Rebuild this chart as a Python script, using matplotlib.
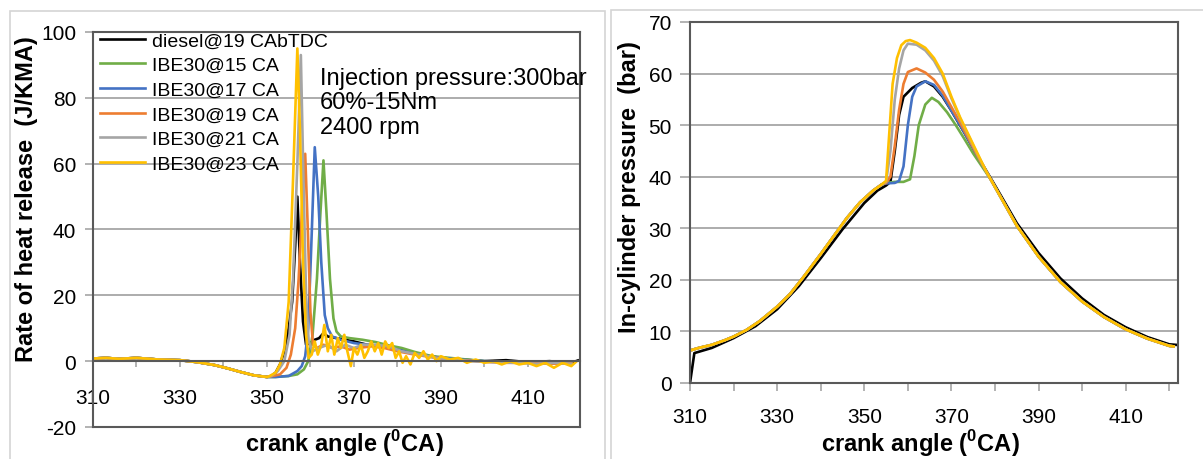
import matplotlib
matplotlib.use("Agg")
import matplotlib.pyplot as plt
from matplotlib.patches import Rectangle

plt.rcParams['font.family'] = ['Liberation Sans', 'DejaVu Sans']
plt.rcParams['axes.unicode_minus'] = False
plt.rcParams['mathtext.fontset'] = 'custom'
plt.rcParams['mathtext.rm'] = 'Liberation Sans'
plt.rcParams['mathtext.bf'] = 'Liberation Sans:bold'

# %%
# series
labels = ["diesel@19 CAbTDC", "IBE30@15 CA", "IBE30@17 CA",
          "IBE30@19 CA", "IBE30@21 CA", "IBE30@23 CA"]
colors = ["#000000", "#70ad47", "#4472c4", "#ed7d31", "#a5a5a5", "#ffc000"]

# %%
# rate of heat release (J/KMA) - shared part before combustion
hr_base_ang = [310, 313, 316, 320, 325, 330, 334, 338, 341, 344, 347, 350]
hr_base = [0.8, 1.0, 0.7, 1.0, 0.5, 0.3, -0.3, -1.2, -2.2, -3.3, -4.3, -4.8]

hr_diesel_ang = [351, 352, 353, 354, 355, 355.8, 356.5, 357, 357.6, 358.3, 359, 360, 361,
                 362, 363, 364, 366, 368, 370, 373, 376, 380, 385, 390, 395, 400, 405,
                 410, 415, 420, 421.5]
hr_diesel = [-4.5, -3.5, -1, 3, 10, 18, 35, 50, 30, 12, 5, 5.5, 6.5,
             7, 8.5, 7.5, 7, 6.5, 6, 5, 4.5, 3.5, 2, 1, 0.5, 0, 0.3,
             -0.3, 0, -0.5, 0.2]

hr_15_ang = [352, 355, 357, 358.5, 359.5, 360.5, 361.5, 362.3, 363, 363.7, 364.5, 365.3,
             366, 367, 369, 372, 375, 378, 381, 384, 388, 392, 396, 400, 405, 410, 415, 420]
hr_15 = [-4.8, -4.5, -4, -2.5, 0, 8, 25, 45, 61, 45, 25, 13,
         9, 7.5, 7, 6.5, 5.8, 4.8, 4, 2.8, 1.5, 1, 0.5, 0, -0.3, -0.3, -0.6, -0.5]

hr_17_ang = [352, 355, 357, 358, 358.8, 359.5, 360.2, 361, 361.8, 362.5, 363.3, 364,
             365, 367, 370, 373, 376, 380, 384, 388, 392, 396, 400, 405, 410, 415, 420]
hr_17 = [-4.8, -4.5, -3, -1.5, 1.5, 10, 35, 65, 50, 30, 14, 10,
         7.5, 6.5, 5.5, 5, 4.5, 3.5, 2.2, 1.3, 0.8, 0.3, 0, -0.2, -0.4, -0.5, -0.6]

hr_19_ang = [351, 353, 354.5, 355.5, 356.5, 357.3, 358.2, 358.8, 359.4, 360, 360.6,
             361.5, 363, 365, 367, 369, 371, 374, 377, 380, 384, 388, 392, 396, 400,
             405, 410, 415, 420]
hr_19 = [-4.6, -4, -2, 2, 10, 25, 50, 63, 40, 15, 5,
         4, 5, 4, 4.5, 3.5, 4, 4.5, 4, 3, 2, 1.2, 0.5, 0.2, -0.2,
         -0.5, -0.5, -0.8, -0.6]

hr_21_ang = [351, 352.5, 354, 355.2, 356, 357, 357.8, 358.4, 359, 359.6, 360.5, 362,
             364, 366, 368, 370, 372, 375, 378, 381, 385, 389, 393, 397, 402, 407,
             412, 416, 420]
hr_21 = [-4.5, -3, 0, 8, 25, 60, 93, 55, 20, 6, 3, 4,
         5, 3, 5, 4, 5, 5, 4.5, 3, 2, 1, 0.5, 0, -0.3, -0.5,
         -0.8, -0.5, -0.8]

hr_23_ang = [350.5, 352, 353, 354, 355, 356, 357, 357.6, 358.3, 359, 359.6, 360.3, 361,
             361.7, 362.5, 363.2, 364, 364.8, 365.5, 366.3, 367, 367.8, 368.5, 369.3,
             370, 370.8, 371.6, 372.4, 373.2, 374, 374.8, 375.6, 376.4, 377.2, 378,
             378.8, 379.6, 380.4, 381.2, 382, 383, 384, 385, 386, 387, 388, 389, 390,
             392, 394, 396, 398, 400, 402, 404, 406, 408, 410, 412, 414, 416, 418,
             420, 421]
hr_23 = [-4.6, -3.5, -1, 4, 18, 55, 95, 70, 30, 8, 1, 2, 6,
         2, 5, 11, 3, 8, 2, 7, 4, 8, 3, -1.5,
         4, 2, 5, 1, 3, 6, 3, 5.5, 2, 6, 4,
         5.5, 1, 3, -0.5, 1.5, -1, 2.5, 1, 3, 0.5, 2, 0, 1.5,
         0.5, 1, -0.5, 0.5, -0.5, 0, -1, 0, -1, -0.5, -1.5, -0.5, -2, -0.5,
         -1.5, -0.3]

# %%
# in-cylinder pressure (bar)
p_comp_ang = [310, 312, 315, 318, 320, 323, 326, 330, 333, 336, 340, 343, 346, 349, 352, 354]
p_comp = [6.3, 6.8, 7.4, 8.3, 9.0, 10.3, 12.0, 14.8, 17.3, 20.5, 25.0, 28.5, 32.0, 35.0, 37.3, 38.5]

p_exp_ang = [380, 385, 390, 395, 400, 405, 410, 415, 420, 421]
p_exp = [38.0, 30.5, 24.5, 19.6, 15.8, 12.8, 10.4, 8.6, 7.2, 7.1]

p_diesel_ang = [310, 311, 315, 320, 325, 330, 335, 340, 345, 350, 353, 355, 356, 357, 358,
                359, 361, 363, 364, 366, 368, 370, 373, 376, 380, 385, 390, 395, 400,
                405, 410, 415, 420, 421.5]
p_diesel = [0, 5.8, 6.8, 8.7, 11.0, 14.3, 18.8, 24.2, 29.8, 34.9, 37.3, 38.3, 39.0, 45, 52,
            55.5, 57.2, 58.2, 58.5, 57.5, 55.5, 52.8, 48.5, 44.0, 38.3, 31.0, 25.2, 20.3, 16.4,
            13.2, 10.8, 8.9, 7.5, 7.4]

p_15_ang = [355, 357, 359, 360.5, 361.5, 362.5, 364, 365.5, 367, 369, 371, 373, 375, 377, 379]
p_15 = [38.8, 39.0, 39.0, 39.5, 44, 50, 54, 55.3, 54.5, 52.5, 50.0, 47.3, 44.5, 42, 39.5]

p_17_ang = [355, 357, 358, 359, 360, 361, 362, 364, 366, 368, 370, 372, 374, 376, 378]
p_17 = [38.7, 38.8, 39.2, 42, 50, 55.5, 57.5, 58.5, 57.8, 55.7, 52.8, 50.0, 47, 44, 41]

p_19_ang = [355, 356, 357, 358, 359, 360, 362, 364, 366, 368, 370, 372, 374, 376, 378]
p_19 = [38.8, 40, 46, 53, 58, 60.3, 61, 60.2, 58.8, 56.5, 53.5, 50.5, 47.3, 44.0, 41.0]

p_21_ang = [355, 356, 357, 358, 359, 360, 362, 364, 366, 368, 370, 372, 374, 376, 378]
p_21 = [39.0, 45, 55, 61, 64.5, 65.8, 65.6, 64.5, 62.5, 59.5, 55.2, 51.3, 47.8, 44.3, 41.0]

p_23_ang = [355, 355.7, 356.5, 357.5, 358.5, 359.5, 360.5, 362, 364, 366, 368, 370, 372, 374, 376, 378]
p_23 = [39.2, 48, 58, 63, 65.5, 66.3, 66.5, 66, 65, 63, 60, 55.5, 51.5, 48, 44.5, 41.0]

# %%
hr_x = [hr_base_ang + a for a in [hr_diesel_ang, hr_15_ang, hr_17_ang, hr_19_ang, hr_21_ang, hr_23_ang]]
hr_y = [hr_base + v for v in [hr_diesel, hr_15, hr_17, hr_19, hr_21, hr_23]]

p_x = [p_diesel_ang] + [p_comp_ang + a + p_exp_ang for a in [p_15_ang, p_17_ang, p_19_ang, p_21_ang, p_23_ang]]
p_y = [p_diesel] + [p_comp + v + p_exp for v in [p_15, p_17, p_19, p_21, p_23]]

# %%
fig = plt.figure(figsize=(12.03, 4.6), dpi=100)
W, H = 1203, 460

# chart area frames
fig.patches.append(Rectangle((10 / W, -0.1), 595 / W, 1.1 - 12 / H, transform=fig.transFigure,
                             fill=False, edgecolor="#d4d4d4", lw=1.2))
fig.patches.append(Rectangle((611 / W, -0.1), 0.6, 1.1 - 11 / H, transform=fig.transFigure,
                             fill=False, edgecolor="#d4d4d4", lw=1.2))

ax1 = fig.add_axes([93 / W, 1 - 428 / H, 487 / W, 395 / H])
ax2 = fig.add_axes([690 / W, 1 - 384 / H, 488 / W, 361 / H])

frame_c = "#595959"
grid_c = "#a6a6a6"
xlab = r"crank angle ($^{\mathbf{0}}$CA)"
ticks_x = list(range(310, 421, 10))
ticklabels_x = [str(v) if (v - 310) % 20 == 0 else "" for v in ticks_x]

# --- left: heat release ---
for x, y, c, lab in zip(hr_x, hr_y, colors, labels):
    ax1.plot(x, y, color=c, lw=1.9, label=lab)

ax1.set_xlim(310, 422)
ax1.set_ylim(-20, 100)
ax1.set_yticks(range(-20, 101, 20))
ax1.set_xticks(ticks_x)
ax1.set_xticklabels(ticklabels_x)
ax1.spines["bottom"].set_position(("data", 0))
ax1.axhline(-20, color=frame_c, lw=1.5, clip_on=False, zorder=3)
for g in [20, 40, 60, 80]:
    ax1.axhline(g, color=grid_c, lw=1.3, zorder=0)
ax1.tick_params(axis="y", direction="out", length=6, width=1.2, color=grid_c, pad=6, labelsize=15)
ax1.tick_params(axis="x", direction="out", length=4, width=1.2, color=grid_c, pad=15, labelsize=15)
ax1.set_ylabel("Rate of heat release  (J/KMA)", fontsize=17, fontweight="bold")
ax1.yaxis.set_label_coords(-0.112, 0.58)
ax1.set_xlabel(xlab, fontsize=17, fontweight="bold")
ax1.xaxis.set_label_coords(0.517, 0.0)
ax1.legend(loc="upper left", bbox_to_anchor=(0.0144, 1.0), frameon=False, fontsize=14,
           handlelength=2.3, handletextpad=0.36, labelspacing=0.36, borderpad=0, borderaxespad=0)
ax1.text(0.466, 0.912, "Injection pressure:300bar\n60%-15Nm\n2400 rpm", transform=ax1.transAxes,
         fontsize=17, va="top", ha="left", linespacing=1.15)

# --- right: in-cylinder pressure ---
for x, y, c, lab in zip(p_x, p_y, colors, labels):
    ax2.plot(x, y, color=c, lw=1.9, label=lab)

ax2.set_xlim(310, 422)
ax2.set_ylim(0, 70)
ax2.set_yticks(range(0, 71, 10))
ax2.set_xticks(ticks_x)
ax2.set_xticklabels(ticklabels_x)
for g in range(10, 70, 10):
    ax2.axhline(g, color=grid_c, lw=1.3, zorder=0)
ax2.tick_params(axis="y", direction="out", length=7, width=1.2, color=grid_c, pad=6, labelsize=15)
ax2.tick_params(axis="x", direction="out", length=6, width=1.2, color=grid_c, pad=11, labelsize=15)
ax2.set_ylabel("In-cylinder pressure  (bar)", fontsize=17, fontweight="bold")
ax2.yaxis.set_label_coords(-0.1, 0.546)
ax2.set_xlabel(xlab, fontsize=17, fontweight="bold")
ax2.xaxis.set_label_coords(0.473, -0.121)

for ax in [ax1, ax2]:
    for s in ax.spines.values():
        s.set_color(frame_c)
        s.set_linewidth(1.5)

fig.savefig("out.png", dpi=100)
